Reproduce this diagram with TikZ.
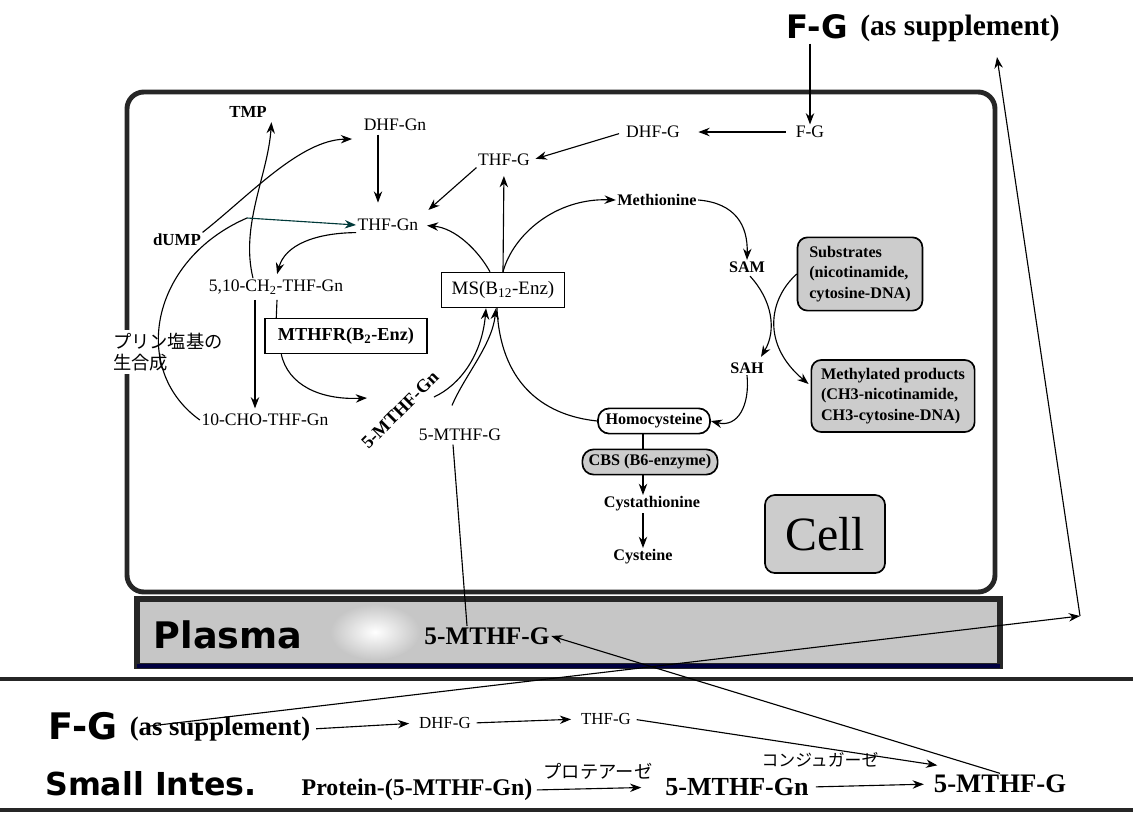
\documentclass[tikz,border=0pt]{standalone}
\usepackage{fontspec}
\setmainfont{Liberation Serif}
\newfontfamily\jpfont{Noto Sans CJK JP}
\newfontfamily\heavyfont{DejaVu Sans}
\usepackage{tikz}
\usetikzlibrary{calc}
\usetikzlibrary{arrows.meta}

\tikzset{
  lbl/.style={inner sep=1pt, font=\fontsize{12.5}{15}\selectfont},
  blbl/.style={inner sep=1pt, font=\bfseries\fontsize{11.5}{14.5}\selectfont},
  enzbox/.style={draw, line width=1pt, fill=white, inner sep=2pt},
  graybox/.style={draw, line width=1.2pt, rounded corners=7pt, fill=gray!40, inner sep=2pt},
  arr/.style={line width=0.8pt, -{Stealth[length=8pt,width=6pt]}},
  plain/.style={line width=0.8pt}
}

\begin{document}
\begin{tikzpicture}[x=0.025cm, y=-0.025cm]
        \useasboundingbox (0,0) rectangle (1133,817);
        % frames
        \draw[line width=3.5pt, draw=black!85, rounded corners=12pt] (127,92) rectangle (995,592);
        \draw[line width=4pt, draw=black!85, fill=gray!45] (137,599) rectangle (1000,666);
        \shade[inner color=white, outer color=gray!45] (375,632) ellipse (45 and 28);
        \draw[line width=3pt, draw=blue!25!black] (137,666) -- (1000,666);
        \draw[line width=2.5pt, draw=black!85] (0,679) -- (1133,679);
        \draw[line width=2.5pt, draw=black!85] (0,810) -- (1133,810);

        % supplement on top
        \node[inner sep=1pt, font={\heavyfont\bfseries\fontsize{23}{25}\selectfont}] (fgtop) at (817,27){F-G};
        \node[inner sep=1pt, font={\bfseries\fontsize{21}{24}\selectfont}] (fgnote) at (960,28){(as supplement)};

        % cell
        \node[lbl] (fgcell) at (810,132){F-G};
        \node[lbl] (dhfg) at (653,132){DHF-G};
        \node[lbl] (thfg) at (504,160){THF-G};
        \node[lbl] (dhfgn) at (395,125){DHF-Gn};
        \node[lbl] (thfgn) at (388,225){THF-Gn};
        \node[blbl, font={\bfseries\fontsize{12}{14}\selectfont}] (tmp) at (248,112){TMP};
        \node[blbl, font={\bfseries\fontsize{12}{14}\selectfont}] (dump) at (177,240){dUMP};
        \node[lbl] (ch2) at (276,287){5,10-CH\textsubscript{2}-THF-Gn};
        \node[lbl] (cho) at (265,420){10-CHO-THF-Gn};
        \node[lbl, fill=white, inner sep=2pt, align=left, anchor=west, font={\jpfont\fontsize{13}{15}\selectfont}] (purine) at (110,352){プリン塩基の\\生合成};
        \node[enzbox, minimum width=4.05cm, minimum height=0.875cm, font={\bfseries\fontsize{13}{15}\selectfont}] (mthfr) at (346,336){MTHFR(B\textsubscript{2}-Enz)};
        \node[enzbox, minimum width=3.08cm, minimum height=0.875cm, font={\fontsize{13.5}{15}\selectfont}] (ms) at (503,290){MS(B\textsubscript{12}-Enz)};
        \node[blbl, rotate=45, font={\bfseries\fontsize{13}{15}\selectfont}] (mtgn) at (400,410){5-MTHF-Gn};
        \node[lbl] (mtg) at (460,435){5-MTHF-G};
        \node[blbl] (met) at (657,200){Methionine};
        \node[blbl] (sam) at (747,267){SAM};
        \node[blbl] (sah) at (747,368){SAH};
        \node[graybox, blbl, align=left, minimum width=3.12cm, minimum height=1.83cm] (subs) at (860,274){Substrates\\(nicotinamide,\\cytosine-DNA)};
        \node[graybox, blbl, align=left, minimum width=4.08cm, minimum height=1.8cm] (meprod) at (893,396){Methylated products\\(CH3-nicotinamide,\\CH3-cytosine-DNA)};
        \node[blbl, draw, line width=1.2pt, rounded corners=8pt, fill=white, minimum width=2.8cm, minimum height=0.63cm] (hcy) at (654,421){Homocysteine};
        \node[graybox, blbl, rounded corners=8pt, minimum width=3.38cm, minimum height=0.63cm] (cbs) at (650,462){CBS (B6-enzyme)};
        \node[blbl] (cysta) at (652,504){Cystathionine};
        \node[blbl] (cys) at (643,557){Cysteine};
        \node[graybox, minimum width=3.0cm, minimum height=1.95cm, font={\fontsize{34}{36}\selectfont}] (cell) at (825,534){Cell};

        % plasma
        \node[inner sep=1pt, font={\heavyfont\bfseries\fontsize{26}{28}\selectfont}] (plasma) at (228,635){Plasma};
        \node[inner sep=1pt, font={\bfseries\fontsize{18}{20}\selectfont}] (pmtg) at (487,636){5-MTHF-G};

        % small intestine
        \node[inner sep=1pt, font={\heavyfont\bfseries\fontsize{26}{28}\selectfont}] (fglow) at (83,726){F-G};
        \node[inner sep=1pt, font={\bfseries\fontsize{19}{21}\selectfont}] (aslow) at (220,729){(as supplement)};
        \node[lbl, font={\fontsize{12}{14}\selectfont}] (dhfgi) at (445,723){DHF-G};
        \node[lbl, font={\fontsize{12}{14}\selectfont}] (thfgi) at (606,719){THF-G};
        \node[inner sep=1pt, font={\heavyfont\bfseries\fontsize{22.5}{25}\selectfont}] (small) at (151,784){Small Intes.};
        \node[inner sep=1pt, font={\bfseries\fontsize{17}{19}\selectfont}] (prot) at (417,790){Protein-(5-MTHF-Gn)};
        \node[inner sep=1pt, font={\jpfont\fontsize{13}{15}\selectfont}] (prtase) at (598,771){プロテアーゼ};
        \node[inner sep=1pt, font={\bfseries\fontsize{18.5}{20}\selectfont}] (mtgni) at (737,787){5-MTHF-Gn};
        \node[inner sep=1pt, font={\jpfont\fontsize{12}{14}\selectfont}] (conj) at (820,760){コンジュガーゼ};
        \node[inner sep=1pt, font={\bfseries\fontsize{19}{21}\selectfont}] (mtgi) at (1000,784){5-MTHF-G};

        \coordinate (jn) at (247,218);
        \coordinate (mtgnin) at (367,398);
        \coordinate (crn) at (1080,616);

        % connectors in the cell
        \draw[arr, shorten <=2pt] (fgtop.south -| fgcell.north) -- (fgcell.north);
        \draw[arr, shorten <=6pt, shorten >=12pt] (fgcell.west) -- (dhfg.east);
        \draw[arr, shorten <=4pt, shorten >=3pt] (dhfg.west) -- (thfg.east);
        \draw[arr, shorten >=8pt] (thfg.south west) -- (thfgn.north east);
        \draw[arr] ($(dhfgn.south)+(-17,2)$) -- ($(dhfgn.south)+(-17,70)$);
        \draw[arr] (dump.north east) .. controls (250,195) and (300,140) .. ($(dhfgn.west)+(-10,14)$);
        \draw[arr] ($(ch2.north)+(-23,0)$) .. controls (240,225) and (268,175) .. ($(tmp.south east)+(3,3)$);
        \draw[plain] (cho.west) .. controls (130,370) and (150,260) .. (jn);
        \draw[arr, draw=teal!45!black] (jn) -- (thfgn.west);
        \draw[arr, shorten >=3pt] (thfgn.south west) .. controls (315,233) and (285,245) .. (ch2.north);
        \draw[arr] ($(ch2.south)+(-21,4)$) -- ($(cho.north)+(-10,-4)$);
        \draw[plain] ($(ch2.south)+(1,4)$) -- ($(mthfr.north west)+(12,0)$);
        \draw[arr] ($(mthfr.south west)+(17,0)$) .. controls (288,385) and (320,400) .. (mtgnin);
        \draw[arr] ($(mtgn.center)+(34,-13)$) .. controls (460,385) and (482,355) .. ($(ms.south)+(-17,0)$);
        \draw[arr] ($(mtg.north)+(-8,-22)$) .. controls (465,375) and (492,345) .. ($(ms.south)+(-7,0)$);
        \draw[plain] (hcy.west) .. controls (540,415) and (500,380) .. ($(ms.south)+(-6,0)$);
        \draw[arr, shorten >=6pt] (ms.north) -- (thfg.south);
        \draw[arr, shorten >=5pt] ($(ms.north)+(-13,0)$) .. controls (478,250) and (455,228) .. (thfgn.east);
        \draw[arr] (ms.north) .. controls (513,235) and (555,198) .. (met.west);
        \draw[arr] (met.east) .. controls (735,203) and (748,225) .. (sam.north);
        \draw[arr] ($(sam.south)+(3,2)$) .. controls (772,300) and (777,330) .. ($(sah.north)+(14,-4)$);
        \draw[arr] (subs.west) .. controls (768,300) and (762,345) .. ($(meprod.west)+(-2,-12)$);
        \draw[arr] (sah.south) .. controls (750,405) and (738,428) .. (hcy.east);
        \draw[plain] (hcy.south -| cys) -- (cbs.north -| cys);
        \draw[arr] (cbs.south -| cys) -- (cysta.north -| cys);
        \draw[arr] (cysta.south -| cys) -- (cys.north);
        \draw[plain] ($(mtg.south)+(-7,2)$) -- ($(pmtg.north)+(-20,0)$);

        % connectors across plasma and intestine
        \draw[arr] ($(aslow.west)+(22,-3)$) -- (crn);
        \draw[arr] (crn) -- ($(fgnote.south)+(37,14)$);
        \draw[arr] (mtgi.north) -- (pmtg.east);
        \draw[arr, shorten <=3pt, shorten >=6pt] (aslow.east) -- (dhfgi.west);
        \draw[arr, shorten <=3pt, shorten >=6pt] (dhfgi.east) -- (thfgi.west);
        \draw[arr, shorten <=3pt] (thfgi.east) -- ($(mtgi.north west)+(5,-8)$);
        \draw[arr, shorten <=2pt, shorten >=16pt] (prot.east) -- (mtgni.west);
        \draw[arr, shorten <=4pt, shorten >=6pt] (mtgni.east) -- (mtgi.west);
\end{tikzpicture}
\end{document}
